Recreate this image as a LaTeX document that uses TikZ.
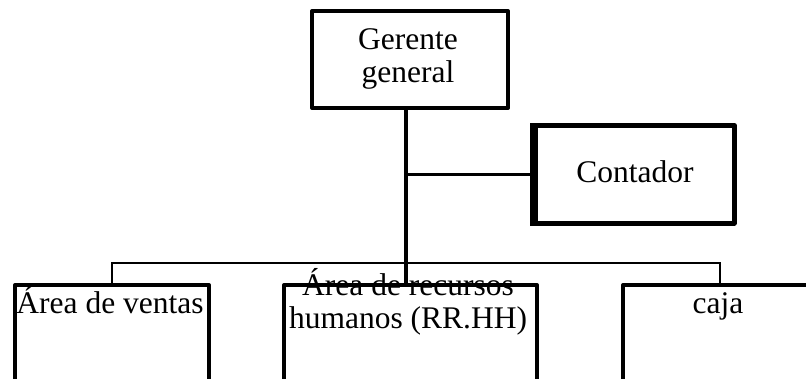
\documentclass[tikz,border=0pt]{standalone}
\usepackage{fontspec}
\setmainfont{Liberation Serif}
\begin{document}
\begin{tikzpicture}[x=1pt,y=-1pt,
  box/.style={draw=black,line width=4pt,line join=round,rectangle,inner sep=0pt,anchor=north west},
  txt/.style={anchor=base,inner sep=0pt,font=\fontsize{31.5}{33}\selectfont},
  thin/.style={line width=2.5pt},
  thick/.style={line width=3.8pt}]
\useasboundingbox (0,0) rectangle (806,378);
% boxes
\node[box,minimum width=196pt,minimum height=97pt] (gg) at (310,9) {};
\node[box,line width=4.5pt,minimum width=199pt,minimum height=98pt] (ct) at (533,123) {};
\node[box,minimum width=194pt,minimum height=140pt] (av) at (13,283) {};
\node[box,minimum width=253pt,minimum height=140pt] (rh) at (282,283) {};
\node[box,minimum width=194pt,minimum height=140pt] (cj) at (621,283) {};
% thicker left edge of Contador
\draw[line width=7pt] (ct.north west) -- (ct.south west);
% texts
\node[txt] (t1) at (408,49) {Gerente};
\node[txt] (t2) at (408,82) {general};
\node[txt] (t3) at (635,182) {Contador};
\node[txt] (t4) at (110,313) {Área de ventas};
\node[txt] (t5) at (408,295) {Área de recursos};
\node[txt] (t6) at (408,328) {humanos (RR.HH)};
\node[txt] (t7) at (718,313) {caja};
% connectors
\coordinate (bus) at (406,263);
\draw[thick] (gg.south -| bus) -- (rh.north -| bus);
\draw[thin] (ct.west -| bus) -- (ct.west);
\draw[thin] (av.north) -- (av.north |- bus) -- (cj.north |- bus) -- (cj.north);
\end{tikzpicture}
\end{document}
